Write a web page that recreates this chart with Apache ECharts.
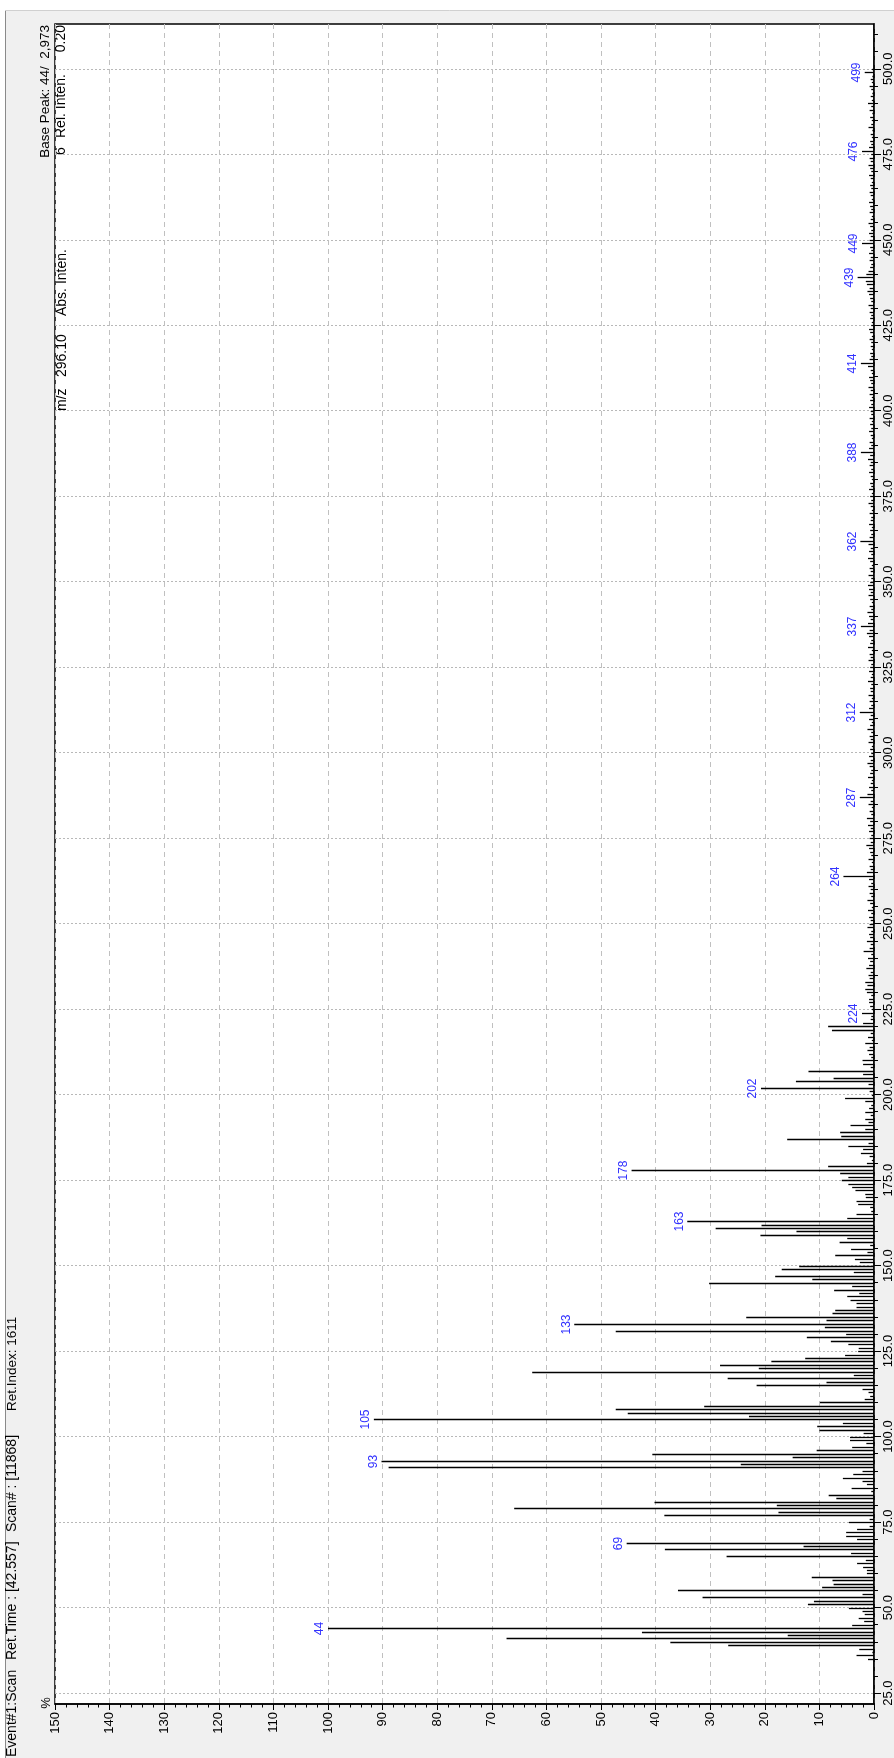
<!DOCTYPE html>
<html>
<head>
<meta charset="utf-8">
<style>
  html, body { margin: 0; padding: 0; background: #f0f0f0; overflow: hidden; }
  #chart { width: 894px; height: 1758px; }
</style>
<script src="https://cdn.jsdelivr.net/npm/echarts@6/dist/echarts.min.js"></script>
</head>
<body>
<div id="chart"></div>
<script>
// ---- spectrum data: [m/z, relative intensity %] ----
const peaks35to99 = [
  [35,1.1],[36,3.2],[37,0.3],[38,2.7],[39,26.7],[40,37.3],[41,67.3],[42,15.8],[43,42.5],[44,100],
  [45,4.0],[46,1.8],[47,2.8],[48,1.7],[49,2.1],[50,4.6],[51,12.1],[52,11.0],[53,31.4],[54,2.1],
  [55,35.9],[56,9.5],[57,7.4],[58,7.6],[59,11.4],[60,1.3],[61,1.3],[62,2.0],[63,3.1],[64,1.5],
  [65,27.0],[66,4.2],[67,38.3],[68,12.9],[69,45.3],[70,3.1],[71,5.1],[72,5.1],[73,3.1],[74,0.8],
  [75,4.6],[76,0.8],[77,38.4],[78,17.5],[79,65.9],[80,17.8],[81,40.2],[82,6.9],[83,8.3],[84,0.5],
  [85,4.1],[86,1.3],[87,2.1],[88,5.7],[89,3.8],[90,2.1],[91,88.9],[92,24.4],[93,90.2],[94,14.9],
  [95,40.6],[96,10.5],[97,4.0],[98,1.4],[99,4.4]
];
const peaks100to199 = [
  [100,4.4],[101,1.9],[102,10.0],[103,10.4],[104,5.7],[105,91.6],[106,22.9],[107,45.1],[108,47.3],[109,31.1],
  [110,9.9],[111,1.7],[112,0.7],[113,1.0],[114,2.1],[115,21.5],[116,8.7],[117,26.8],[118,3.7],[119,62.6],
  [120,21.1],[121,28.2],[122,18.8],[123,12.6],[124,5.3],[125,2.9],[126,2.8],[127,4.7],[128,7.9],[129,12.3],
  [130,5.1],[131,47.3],[132,9.0],[133,54.9],[134,8.7],[135,23.4],[136,7.6],[137,7.1],[138,3.2],[139,3.2],
  [140,4.3],[141,4.9],[142,2.7],[143,7.3],[144,4.0],[145,30.2],[146,11.3],[147,18.1],[148,3.7],[149,16.9],
  [150,13.7],[151,2.6],[152,3.5],[153,7.1],[154,1.2],[155,4.2],[156,0.7],[157,6.3],[158,4.9],[159,20.8],
  [160,14.2],[161,29.0],[162,20.6],[163,34.2],[164,4.9],[165,3.2],[166,0.5],[167,0.7],[168,2.9],[169,3.2],
  [170,1.5],[171,1.6],[172,3.4],[173,4.0],[174,4.7],[175,5.9],[176,4.7],[177,6.2],[178,44.4],[179,8.4],
  [180,1.3],[181,0.4],[182,0.8],[183,2.4],[184,2.0],[185,4.7],[186,1.0],[187,15.9],[188,6.0],[189,6.2],
  [190,1.6],[191,4.3],[192,1.0],[193,1.6],[194,0.6],[195,1.6],[196,0.9],[197,0.5],[198,1.6],[199,5.3]
];
const peaks200to299 = [
  [200,0.4],[201,0.8],[202,20.7],[203,1.0],[204,14.3],[205,7.4],[206,2.0],[207,12.0],[208,0.6],[209,2.0],
  [210,2.1],[211,0.5],[212,0.9],[213,1.2],[214,0.8],[215,1.6],[216,0.4],[217,1.1],[218,0.6],[219,7.7],
  [220,8.4],[221,2.0],[222,0.6],[223,0.5],[224,2.2],[225,0.4],[226,0.7],[227,0.9],[228,0.9],[229,0.5],
  [230,1.3],[231,1.6],[232,1.2],[233,1.6],[234,0.8],[235,1.0],[236,0.6],[237,1.4],[238,0.9],[239,0.7],
  [240,1.1],[241,0.5],[242,1.9],[243,0.8],[244,0.6],[245,1.3],[246,0.7],[247,0.9],[248,0.5],[249,1.2],
  [250,0.8],[251,0.6],[252,0.9],[253,0.5],[254,1.1],[255,0.4],[256,0.7],[257,1.2],[258,0.5],[259,0.8],
  [260,0.6],[261,1.0],[262,0.5],[263,0.9],[264,5.6],[265,1.3],[266,0.6],[267,0.8],[268,0.4],[269,1.0],
  [270,0.5],[271,0.7],[272,0.9],[273,1.4],[274,0.6],[275,0.8],[276,0.5],[277,0.9],[278,0.6],[279,1.1],
  [280,0.7],[281,1.3],[282,0.5],[283,0.8],[284,0.4],[285,1.0],[286,0.6],[287,2.6],[288,1.2],[289,0.5],
  [290,0.9],[291,0.6],[292,0.4],[293,1.1],[294,0.7],[295,0.5],[296,0.8],[297,1.2],[298,0.6],[299,0.9]
];
const peaks300to399 = [
  [300,0.5],[301,0.7],[302,0.4],[303,1.0],[304,0.6],[305,0.8],[306,0.5],[307,1.2],[308,0.7],[309,0.4],
  [310,0.9],[311,0.6],[312,2.6],[313,0.9],[314,0.5],[315,0.8],[316,0.4],[317,1.0],[318,0.6],[319,0.7],
  [320,0.5],[321,1.1],[322,0.6],[323,0.4],[324,0.9],[325,0.7],[326,0.5],[327,1.0],[328,0.6],[329,0.8],
  [330,0.4],[331,1.1],[332,0.7],[333,0.5],[334,0.9],[335,1.3],[336,0.8],[337,2.4],[338,1.1],[339,0.6],
  [340,0.9],[341,1.2],[342,0.5],[343,0.8],[344,0.4],[345,0.7],[346,1.0],[347,0.6],[348,0.9],[349,1.1],
  [350,0.7],[351,0.5],[352,1.0],[353,0.6],[354,0.8],[355,0.4],[356,0.7],[357,1.1],[358,0.5],[359,0.9],
  [360,0.6],[361,1.0],[362,2.5],[363,0.8],[364,0.5],[365,0.7],[366,0.4],[367,0.9],[368,0.6],[369,0.5],
  [370,0.8],[371,0.4],[372,0.6],[373,1.0],[374,0.5],[375,0.7],[376,0.4],[377,0.9],[378,0.5],[379,0.7],
  [380,0.4],[381,0.6],[382,0.9],[383,0.5],[384,0.8],[385,0.6],[386,1.1],[387,0.7],[388,2.4],[389,0.9],
  [390,0.5],[391,0.8],[392,0.4],[393,0.6],[394,0.9],[395,0.5],[396,0.7],[397,0.4],[398,0.8],[399,0.5]
];
const peaks400to500 = [
  [400,0.6],[401,0.9],[402,0.5],[403,0.7],[404,0.4],[405,0.8],[406,0.6],[407,1.0],[408,0.5],[409,0.7],
  [410,0.9],[411,0.4],[412,0.6],[413,1.1],[414,2.4],[415,0.8],[416,0.5],[417,0.7],[418,0.4],[419,0.6],
  [420,0.5],[421,0.8],[422,0.4],[423,0.7],[424,0.9],[425,0.5],[426,0.4],[427,0.7],[428,0.5],[429,0.8],
  [430,0.6],[431,1.0],[432,0.5],[433,0.7],[434,0.9],[435,1.2],[436,0.8],[437,1.3],[438,1.5],[439,3.0],
  [440,1.4],[441,1.0],[442,0.7],[443,0.5],[444,0.8],[445,0.6],[446,0.9],[447,0.5],[448,0.7],[449,2.2],
  [450,0.8],[451,0.6],[452,0.9],[453,0.5],[454,0.7],[455,1.0],[456,0.6],[457,0.4],[458,0.8],[459,0.5],
  [460,0.7],[461,0.9],[462,0.4],[463,0.6],[464,0.8],[465,0.5],[466,0.7],[467,0.4],[468,0.6],[469,0.9],
  [470,0.5],[471,0.7],[472,1.0],[473,0.6],[474,0.8],[475,0.5],[476,2.2],[477,0.9],[478,0.5],[479,0.7],
  [480,0.4],[481,0.6],[482,0.3],[483,1.0],[484,0.5],[485,0.4],[486,0.7],[487,0.3],[488,0.8],[489,0.5],
  [490,1.1],[491,0.4],[492,0.6],[493,0.3],[494,0.5],[495,0.8],[496,0.4],[497,0.6],[498,0.3],[499,1.7],
  [500,0.4]
];

// peaks annotated with their m/z
const labeledMz = [44, 69, 93, 105, 133, 163, 178, 202, 224, 264, 287, 312, 337, 362, 388, 414, 439, 449, 476, 499];

// axis labels
const mzTicks = [25, 50, 75, 100, 125, 150, 175, 200, 225, 250, 275, 300, 325, 350, 375, 400, 425, 450, 475, 500];
const intensityTicks = [0, 10, 20, 30, 40, 50, 60, 70, 80, 90, 100, 110, 120, 130, 140, 150];

// header texts
const scanInfo = ['Event#1:Scan', 'Ret.Time : [42.557]', 'Scan# : [11868]', 'Ret.Index: 1611'];
const basePeakText = 'Base Peak: 44/  2,973';
const relIntenText = ['6', 'Rel. Inten.', '0.20'];
const cursorText = ['m/z', '296.10', 'Abs. Inten.'];

const MZ_MIN = 21.8, MZ_MAX = 513.1;
const FONT = '"Liberation Sans", Arial, sans-serif';

const allPeaks = [].concat(peaks35to99, peaks100to199, peaks200to299, peaks300to399, peaks400to500);
const stickData = allPeaks.map(p => [p[1], p[0]]);   // [intensity, m/z]

const minorMz = [];
for (let v = 25; v <= 510; v += 5) minorMz.push(v);

// text running bottom-to-top
function rotText(text, x, y, align, size, color) {
  return {
    type: 'text', x: x, y: y, rotation: Math.PI / 2, silent: true,
    style: { text: text, fill: color || '#000', fontSize: size || 13, fontFamily: FONT,
             align: align, verticalAlign: 'middle' }
  };
}

const chart = echarts.init(document.getElementById('chart'), null, { renderer: 'canvas' });

const option = {
  animation: false,
  backgroundColor: '#f0f0f0',
  grid: {
    left: 55, right: 20, top: 24, bottom: 54,
    show: true, backgroundColor: '#ffffff', borderColor: '#000', borderWidth: 1.5,
    containLabel: false, outerBoundsMode: 'none'
  },
  xAxis: [{
    type: 'value', inverse: true, min: 0, max: 150, interval: 10, position: 'bottom',
    axisLine: { show: true, onZero: false, lineStyle: { color: '#000', width: 1.5 } },
    axisTick: { show: true, length: 6, lineStyle: { color: '#000', width: 1 } },
    minorTick: { show: true, splitNumber: 5, length: 3.5, lineStyle: { color: '#000', width: 1 } },
    axisLabel: {
      rotate: 90, margin: 8, fontSize: 13, color: '#000', fontFamily: FONT,
      customValues: intensityTicks, formatter: v => String(v)
    },
    splitLine: { show: true, lineStyle: { color: '#c0c0c0', width: 1, type: [5, 4] } },
    minorSplitLine: { show: false }
  }],
  yAxis: [{
    type: 'value', min: MZ_MIN, max: MZ_MAX, position: 'right',
    axisLine: { show: true, onZero: false, lineStyle: { color: '#000', width: 1.5 } },
    axisTick: { show: true, length: 7, customValues: mzTicks, lineStyle: { color: '#000', width: 1 } },
    axisLabel: {
      rotate: 90, margin: 8, fontSize: 13, color: '#000', fontFamily: FONT,
      customValues: mzTicks, formatter: v => Number(v).toFixed(1)
    },
    splitLine: { show: true, lineStyle: { color: '#b8b8b8', width: 1, type: [2, 2] } }
  }, {
    type: 'value', min: MZ_MIN, max: MZ_MAX, position: 'right', offset: 0,
    axisLine: { show: false },
    axisTick: { show: true, length: 4, customValues: minorMz, lineStyle: { color: '#000', width: 1 } },
    axisLabel: { show: false },
    splitLine: { show: false }
  }],
  graphic: [
    { type: 'rect', shape: { x: 0, y: 0, width: 894, height: 10 }, style: { fill: '#ffffff' }, silent: true },
    { type: 'rect', shape: { x: 0, y: 0, width: 5, height: 1758 }, style: { fill: '#ffffff' }, silent: true },
    { type: 'line', shape: { x1: 5.5, y1: 10, x2: 5.5, y2: 1758 }, style: { stroke: '#8a8a8a', lineWidth: 1 }, silent: true },
    { type: 'line', shape: { x1: 5, y1: 10.5, x2: 894, y2: 10.5 }, style: { stroke: '#d0d0d0', lineWidth: 1 }, silent: true },
    rotText(scanInfo[0], 12, 1757, 'left', 14),
    rotText(scanInfo[1], 12, 1660, 'left', 14),
    rotText(scanInfo[2], 12, 1532, 'left', 14),
    rotText(scanInfo[3], 12, 1411, 'left', 13.5),
    rotText(basePeakText, 45.5, 25, 'right', 13.5),
    rotText(relIntenText[0], 61.5, 155, 'left', 14),
    rotText(relIntenText[1], 61.5, 138, 'left', 14),
    rotText(relIntenText[2], 61.5, 25, 'right', 14),
    rotText(cursorText[0], 62, 411, 'left', 14),
    rotText(cursorText[1], 62, 377, 'left', 14),
    rotText(cursorText[2], 62, 316, 'left', 14),
    rotText('%', 46, 1703, 'center', 13)
  ],
  series: [{
    type: 'custom',
    coordinateSystem: 'cartesian2d',
    xAxisIndex: 0, yAxisIndex: 0,
    clip: false,
    encode: { x: 0, y: 1 },
    data: stickData,
    renderItem: function (params, api) {
      const inten = api.value(0);
      const mz = api.value(1);
      const base = api.coord([0, mz]);
      const tip = api.coord([inten, mz]);
      const y = Math.round(base[1]) + 0.5;
      const children = [{
        type: 'line',
        shape: { x1: base[0], y1: y, x2: tip[0], y2: y },
        style: { stroke: '#000', lineWidth: 1.3 }
      }];
      if (labeledMz.indexOf(mz) >= 0) {
        children.push({
          type: 'text', x: tip[0] - 2, y: y, rotation: Math.PI / 2,
          style: { text: String(mz), fill: '#3232ff', fontSize: 12, fontFamily: FONT,
                   align: 'center', verticalAlign: 'bottom' }
        });
      }
      return { type: 'group', children: children };
    }
  }]
};

chart.setOption(option);
</script>
</body>
</html>
